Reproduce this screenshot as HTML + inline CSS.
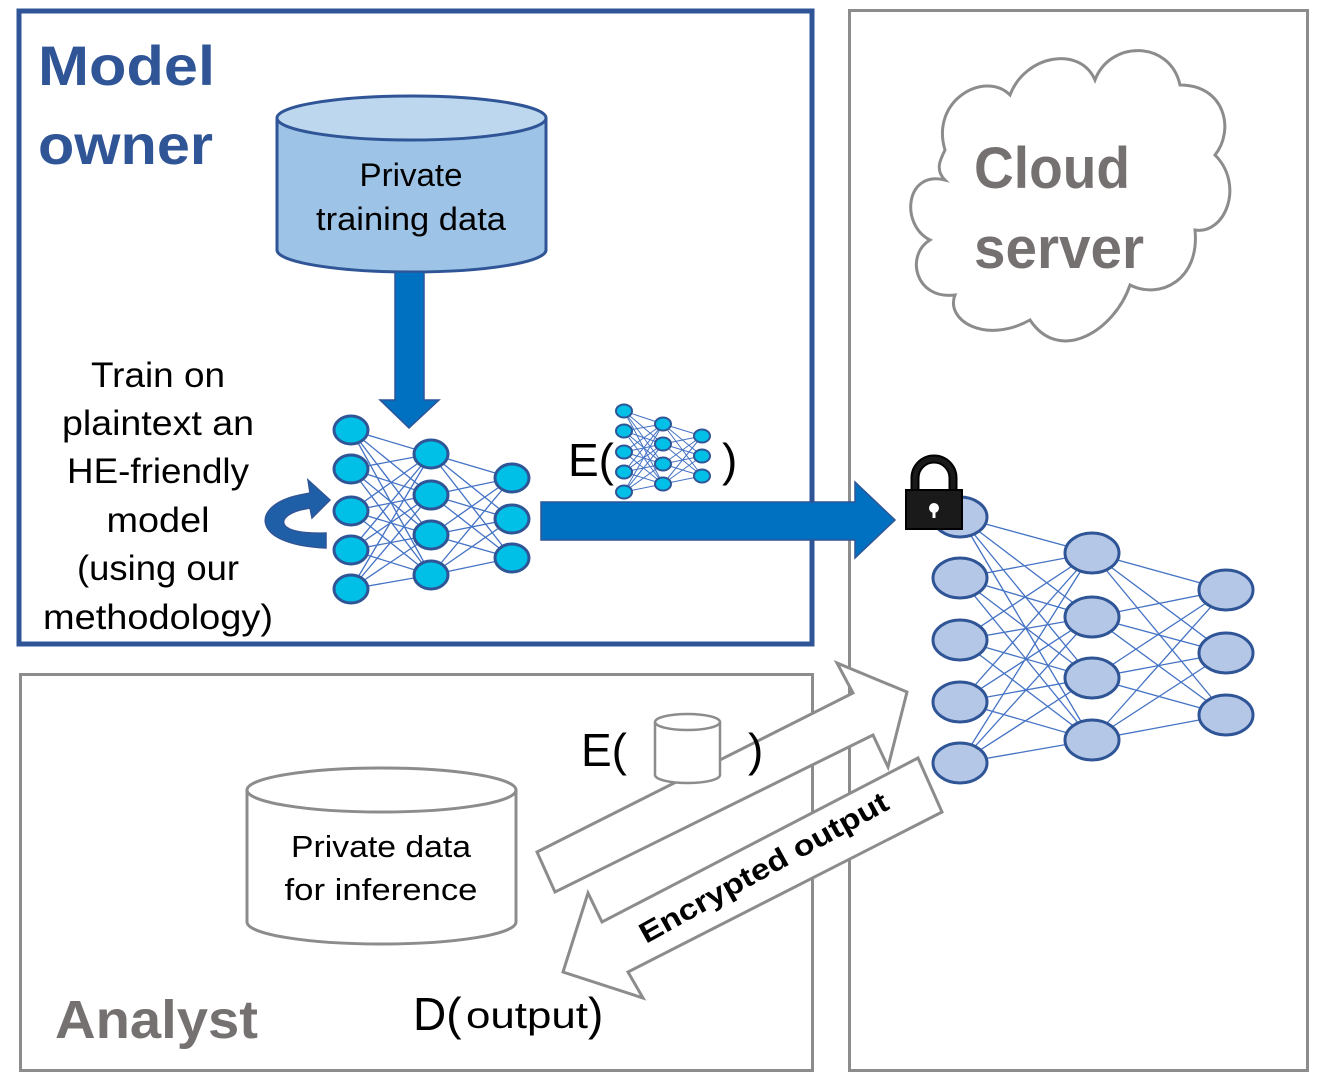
<!DOCTYPE html>
<html><head><meta charset="utf-8"><style>
html,body{margin:0;padding:0;background:#fff;}
svg{display:block;}
text{font-family:"Liberation Sans",sans-serif;}
</style></head><body>
<svg id="s" width="1328" height="1080" viewBox="0 0 1328 1080" xmlns="http://www.w3.org/2000/svg">
<rect x="849.5" y="10.5" width="458" height="1060" fill="none" stroke="#8c8c8c" stroke-width="3"/>
<rect x="20.5" y="674.5" width="792" height="396" fill="none" stroke="#8c8c8c" stroke-width="3"/>
<rect x="19" y="11" width="793" height="633" fill="none" stroke="#2f5597" stroke-width="5"/>

<text x="38" y="85" font-size="56" font-weight="bold" fill="#2f5597" textLength="177" lengthAdjust="spacingAndGlyphs">Model</text>
<text x="38" y="164" font-size="56" font-weight="bold" fill="#2f5597" textLength="175" lengthAdjust="spacingAndGlyphs">owner</text>

<path d="M277 118 L277 250 A134.5 22 0 0 0 546 250 L546 118" fill="#9dc3e6" stroke="#2f5597" stroke-width="3"/>
<ellipse cx="411.5" cy="118" rx="134.5" ry="22" fill="#bdd7ee" stroke="#2f5597" stroke-width="3"/>
<text x="411" y="186" font-size="32" text-anchor="middle" fill="#000" textLength="103" lengthAdjust="spacingAndGlyphs">Private</text>
<text x="411" y="230" font-size="32" text-anchor="middle" fill="#000" textLength="190" lengthAdjust="spacingAndGlyphs">training data</text>

<polygon points="395,272 424,272 424,400 439,400 409,428 380,400 395,400" fill="#0070c0" stroke="#2f5597" stroke-width="1.5"/>
<polygon points="541,502 855,502 855,482 895,520 855,558 855,540 541,540" fill="#0070c0" stroke="#2f5597" stroke-width="1.5"/>

<path d="M326 548 C 250 545 250 505 300 495 L310 493 L308 480 L330 500 L312 518 L310 508 L300 510 C 275 517 275 535 326 533 Z" fill="#1f5fa8" stroke="#2f5597" stroke-width="1.5"/>

<g font-size="35" text-anchor="middle" fill="#000">
<text x="158" y="387" textLength="134" lengthAdjust="spacingAndGlyphs">Train on</text>
<text x="158" y="435" textLength="192" lengthAdjust="spacingAndGlyphs">plaintext an</text>
<text x="158" y="483" textLength="182" lengthAdjust="spacingAndGlyphs">HE-friendly</text>
<text x="158" y="532" textLength="103" lengthAdjust="spacingAndGlyphs">model</text>
<text x="158" y="580" textLength="162" lengthAdjust="spacingAndGlyphs">(using our</text>
<text x="158" y="629" textLength="230" lengthAdjust="spacingAndGlyphs">methodology)</text>
</g>

<g id="nets"></g>

<text x="568" y="476" font-size="46" fill="#000">E(</text>
<text x="722" y="476" font-size="46" fill="#000">)</text>

<path d="M945 150 C 930 100 985 70 1010 95 C 1025 55 1080 45 1095 80 C 1110 40 1170 40 1180 85 C 1225 85 1235 130 1215 155 C 1245 185 1225 235 1195 230 C 1200 280 1160 300 1130 285 C 1115 330 1060 365 1030 320 C 985 345 945 320 955 295 C 915 300 905 255 930 240 C 900 225 905 170 945 180 C 935 170 940 160 945 150 Z" fill="#fff" stroke="#8c8c8c" stroke-width="3"/>
<text x="974" y="188" font-size="58" font-weight="bold" fill="#767171" textLength="156" lengthAdjust="spacingAndGlyphs">Cloud</text>
<text x="974" y="268" font-size="58" font-weight="bold" fill="#767171" textLength="170" lengthAdjust="spacingAndGlyphs">server</text>

<path d="M247 790 L247 922 A134.5 22 0 0 0 516 922 L516 790" fill="#fff" stroke="#8c8c8c" stroke-width="3"/>
<ellipse cx="381.5" cy="790" rx="134.5" ry="22" fill="#fff" stroke="#8c8c8c" stroke-width="3"/>
<text x="381" y="857" font-size="31" text-anchor="middle" fill="#000" textLength="180" lengthAdjust="spacingAndGlyphs">Private data</text>
<text x="381" y="900" font-size="31" text-anchor="middle" fill="#000" textLength="193" lengthAdjust="spacingAndGlyphs">for inference</text>

<text x="55" y="1038" font-size="54" font-weight="bold" fill="#767171" textLength="203" lengthAdjust="spacingAndGlyphs">Analyst</text>

<polygon points="537,852 853,693 837,663 907,692 888,767 873,735 555,892" fill="#fff" stroke="#8c8c8c" stroke-width="3"/>
<polygon points="563,972 588,893 602,922 918,758 942,812 628,972 643,998" fill="#fff" stroke="#8c8c8c" stroke-width="3"/>
<text x="0" y="0" font-size="29" font-weight="bold" fill="#000" transform="translate(646,944) rotate(-29)" textLength="280" lengthAdjust="spacingAndGlyphs">Encrypted output</text>

<path d="M655 722 L655 775 A32.5 8 0 0 0 720 775 L720 722" fill="#fff" stroke="#8c8c8c" stroke-width="2.5"/>
<ellipse cx="687.5" cy="722" rx="32.5" ry="8" fill="#fff" stroke="#8c8c8c" stroke-width="2.5"/>
<text x="581" y="766" font-size="46" fill="#000">E(</text>
<text x="748" y="766" font-size="46" fill="#000">)</text>

<text x="413" y="1030" font-size="46" fill="#000">D(</text>
<text x="466" y="1028" font-size="37" fill="#000" textLength="122" lengthAdjust="spacingAndGlyphs">output</text>
<text x="588" y="1030" font-size="46" fill="#000">)</text>

<g id="lock">
<path d="M915 492 L915 478 A19 19 0 0 1 953 478 L953 492" fill="none" stroke="#000" stroke-width="9"/>
<path d="M915 492 L915 478 A19 19 0 0 1 953 478 L953 492" fill="none" stroke="#1a1a1a" stroke-width="5"/>
<rect x="906" y="490" width="56" height="39" fill="#1a1a1a" stroke="#000" stroke-width="2"/>
<circle cx="934" cy="508" r="5" fill="#fff"/>
<rect x="932.5" y="509" width="3" height="9" fill="#fff"/>
</g>
</svg>
<script>
(function(){
var ns="http://www.w3.org/2000/svg",g=document.getElementById("nets"),lock=document.getElementById("lock");
function net(layers,rx,ry,fill,stroke,sw,lw,before){
 var gg=document.createElementNS(ns,"g");
 for(var i=0;i<layers.length-1;i++){var A=layers[i],B=layers[i+1];
  A.ys.forEach(function(ya){B.ys.forEach(function(yb){var l=document.createElementNS(ns,"line");
   l.setAttribute("x1",A.x);l.setAttribute("y1",ya);l.setAttribute("x2",B.x);l.setAttribute("y2",yb);
   l.setAttribute("stroke","#4472c4");l.setAttribute("stroke-width",lw);gg.appendChild(l);});});}
 layers.forEach(function(L){L.ys.forEach(function(y){var e=document.createElementNS(ns,"ellipse");
  e.setAttribute("cx",L.x);e.setAttribute("cy",y);e.setAttribute("rx",rx);e.setAttribute("ry",ry);
  e.setAttribute("fill",fill);e.setAttribute("stroke",stroke);e.setAttribute("stroke-width",sw);gg.appendChild(e);});});
 if(before) before.parentNode.insertBefore(gg,before); else g.appendChild(gg);
}
net([{x:351,ys:[430,469,511,550,589]},{x:431,ys:[454,495,535,575]},{x:512,ys:[478,519,558]}],17,14,"#00c0e8","#2f5597",3,1.3);
net([{x:624,ys:[411,431,452,472,492]},{x:663,ys:[424,444,464,484]},{x:702,ys:[436,456,476]}],8,6.5,"#00c0e8","#2f5597",2,1);
net([{x:960,ys:[517,578,640,702,763]},{x:1092,ys:[553,617,678,740]},{x:1226,ys:[590,653,715]}],27,20,"#b4c7e7","#2f5597",3,1.3,lock);
})();
</script>
</body></html>
